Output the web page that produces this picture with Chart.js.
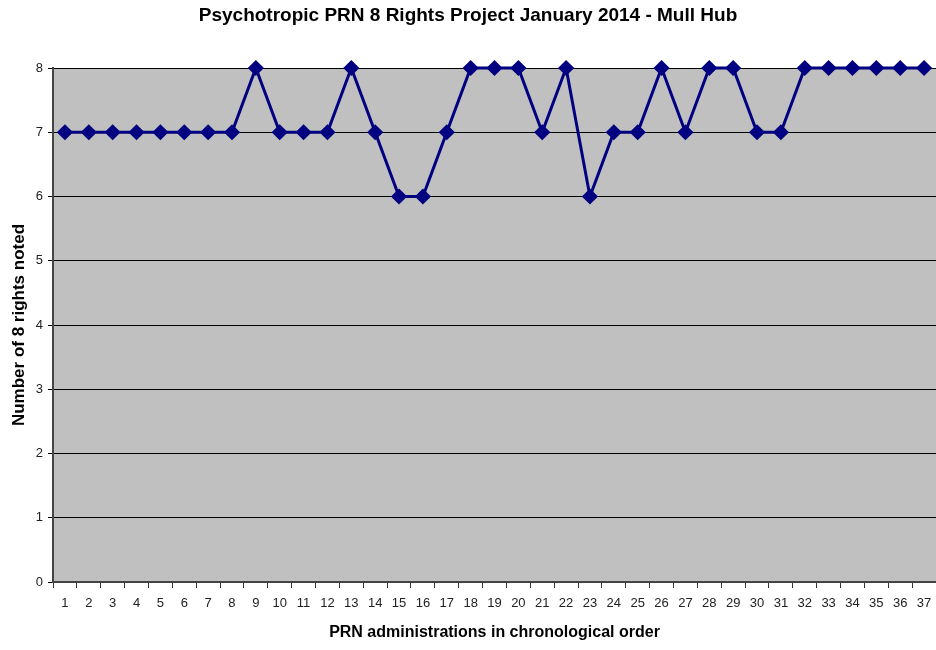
<!DOCTYPE html>
<html>
<head>
<meta charset="utf-8">
<script src="https://cdn.jsdelivr.net/npm/chart.js@4/dist/chart.umd.min.js"></script>
<style>
  html, body { margin: 0; padding: 0; background: #fff; }
  #wrap { width: 936px; height: 650px; }
</style>
</head>
<body>
<div id="wrap"><canvas id="c"></canvas></div>
<script>
const administrations = ["1","2","3","4","5","6","7","8","9","10","11","12","13","14","15","16","17","18","19","20","21","22","23","24","25","26","27","28","29","30","31","32","33","34","35","36","37"];
const rightsNoted = [7,7,7,7,7,7,7,7,8,7,7,7,8,7,6,6,7,8,8,8,7,8,6,7,7,8,7,8,8,7,7,8,8,8,8,8,8];
const yTicks = [0,1,2,3,4,5,6,7,8];

// grey plot background like the old Excel charts
const plotBg = {
  id: "plotBg",
  beforeDraw(chart) {
    const { ctx, chartArea: a } = chart;
    ctx.save();
    ctx.fillStyle = "#c0c0c0";
    ctx.fillRect(a.left, a.top, a.right - a.left, a.bottom - a.top);
    ctx.restore();
  },
};

new Chart(document.getElementById("c"), {
  type: "line",
  data: {
    labels: administrations,
    datasets: [
      {
        data: rightsNoted,
        borderColor: "#000080",
        backgroundColor: "#000080",
        borderWidth: 3,
        pointStyle: "rectRot",
        pointRadius: 6,
        pointHoverRadius: 6,
        tension: 0,
        clip: false,
      },
    ],
  },
  options: {
    responsive: true,
    maintainAspectRatio: false,
    animation: false,
    layout: { padding: 0, autoPadding: false },
    plugins: {
      legend: { display: false },
      tooltip: { enabled: false },
      title: {
        display: true,
        text: "Psychotropic PRN 8 Rights Project January 2014 - Mull Hub",
        color: "#000",
        font: { family: "'Liberation Sans Narrow', 'Liberation Sans', Arial, sans-serif", size: 19, weight: "bold", lineHeight: 1.2 },
        padding: { top: 4, bottom: 41.2 },
      },
    },
    scales: {
      x: {
        offset: true,
        afterFit: (s) => { s.height = 68; s.paddingRight = 0; },
        grid: {
          offset: true,
          drawOnChartArea: false,
          drawTicks: true,
          tickLength: 6,
          color: "#333",
        },
        border: { display: true, color: "#444", width: 2 },
        ticks: {
          color: "#222",
          padding: 8,
          maxRotation: 0,
          autoSkip: false,
          font: { family: "'Liberation Sans', Arial, sans-serif", size: 13 },
        },
        title: {
          display: true,
          text: "PRN administrations in chronological order",
          color: "#000",
          font: { family: "'Liberation Sans', Arial, sans-serif", size: 16, weight: "bold", lineHeight: 1.2 },
          padding: { top: 4, bottom: 8 },
        },
      },
      y: {
        min: 0,
        max: 8,
        afterFit: (s) => { s.width = 53; },
        afterBuildTicks: (s) => { s.ticks = yTicks.map((v) => ({ value: v })); },
        grid: {
          color: "#000",
          lineWidth: 1,
          drawTicks: true,
          tickLength: 5,
        },
        border: { display: true, color: "#444", width: 2 },
        ticks: {
          color: "#222",
          padding: 5,
          font: { family: "'Liberation Sans', Arial, sans-serif", size: 13 },
        },
        title: {
          display: true,
          text: "Number of 8 rights noted",
          color: "#000",
          font: { family: "'Liberation Sans', Arial, sans-serif", size: 17, weight: "bold", lineHeight: 1.2 },
          padding: { top: 9, bottom: 4 },
        },
      },
    },
  },
  plugins: [plotBg],
});
</script>
</body>
</html>
